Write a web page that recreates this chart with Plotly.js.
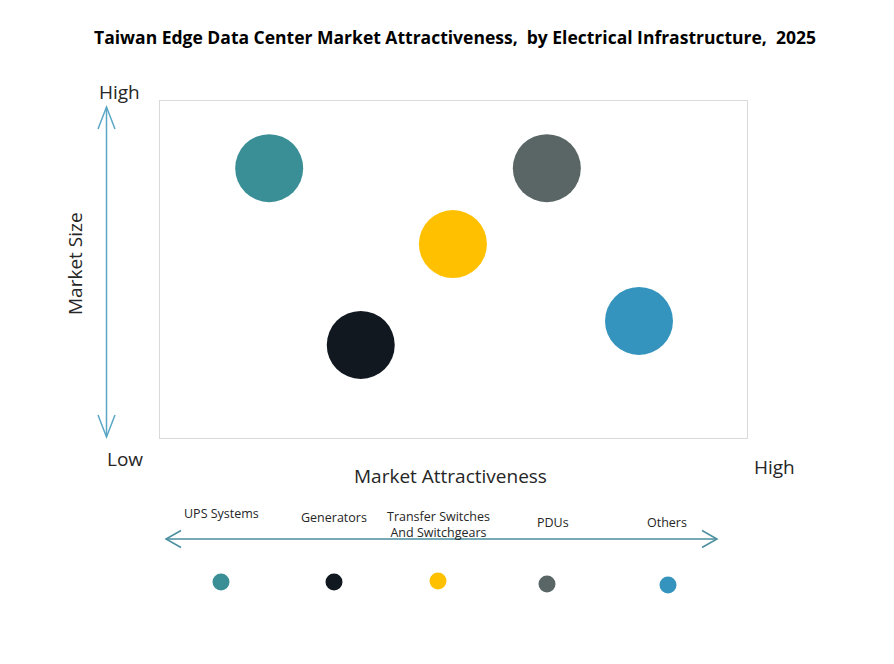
<!DOCTYPE html>
<html>
<head>
<meta charset="utf-8">
<script src="https://cdn.plot.ly/plotly-3.0.1.min.js"></script>
<style>
  html, body { margin: 0; padding: 0; background: #fff; }
  #chart { width: 894px; height: 664px; }
</style>
</head>
<body>
<div id="chart"></div>
<script>
// segments and where they sit (0-10 scale on both axes)
var segments = ["UPS Systems", "Generators", "Transfer Switches<br>And Switchgears", "PDUs", "Others"];
var attractiveness = [1.86, 3.42, 4.99, 6.59, 8.16];
var marketSize = [8.0, 2.76, 5.75, 8.0, 3.47];

var segColors = ["#3A8F97", "#111820", "#FFC000", "#5A6566", "#3594BD"];

// legend row below the chart, placed on a pixel-sized helper axis
var legendDotX = [221, 334, 438, 547, 668];
var legendDotY = [582, 582, 581, 584, 585];
var legendLabelX = [221, 334, 438, 553, 667];
var legendLabelY = [513, 517, 524, 522, 522];

var font = "Open Sans, DejaVu Sans, sans-serif";

var bubbles = {
  x: attractiveness,
  y: marketSize,
  text: segments,
  mode: "markers",
  type: "scatter",
  hoverinfo: "text",
  marker: { size: 68, color: segColors, opacity: 1, line: { width: 0 } },
  xaxis: "x",
  yaxis: "y"
};

var legendDots = {
  x: legendDotX,
  y: legendDotY,
  text: segments,
  mode: "markers",
  type: "scatter",
  hoverinfo: "text",
  marker: { size: 17, color: segColors, line: { width: 0 } },
  xaxis: "x2",
  yaxis: "y2"
};

var annotations = [];
for (var i = 0; i < segments.length; i++) {
  annotations.push({
    xref: "x2", yref: "y2",
    x: legendLabelX[i], y: legendLabelY[i],
    text: segments[i],
    showarrow: false,
    xanchor: "center", yanchor: "middle",
    font: { family: font, size: 12.5, color: "#262626" }
  });
}

function axisText(txt, x, y, size, angle) {
  return {
    xref: "x2", yref: "y2", x: x, y: y, text: txt, showarrow: false,
    xanchor: "center", yanchor: "middle", textangle: angle || 0,
    font: { family: font, size: size, color: "#262626" }
  };
}
annotations.push(axisText("High", 119, 92, 19));
annotations.push(axisText("Low", 125, 459, 19));
annotations.push(axisText("Market Size", 75, 264, 19, -90));
annotations.push(axisText("Market Attractiveness", 450, 476, 19));
annotations.push(axisText("High", 774, 467, 19));

// open chevron arrows
var yArrow = "#5BA6C6";
var xArrow = "#4A8E9E";
var shapes = [
  { type: "line", xref: "x2", yref: "y2", x0: 106.5, y0: 107, x1: 106.5, y1: 437, line: { color: yArrow, width: 1.5 } },
  { type: "path", xref: "x2", yref: "y2", path: "M 98,129 L 106.5,107 L 115,129", line: { color: yArrow, width: 1.5 } },
  { type: "path", xref: "x2", yref: "y2", path: "M 98,415 L 106.5,437 L 115,415", line: { color: yArrow, width: 1.5 } },
  { type: "line", xref: "x2", yref: "y2", x0: 166, y0: 539, x1: 717, y1: 539, line: { color: xArrow, width: 1.5 } },
  { type: "path", xref: "x2", yref: "y2", path: "M 181,530.5 L 166,539 L 181,547.5", line: { color: xArrow, width: 1.5 } },
  { type: "path", xref: "x2", yref: "y2", path: "M 702,530.5 L 717,539 L 702,547.5", line: { color: xArrow, width: 1.5 } }
];

var layout = {
  width: 894,
  height: 664,
  margin: { l: 0, r: 0, t: 0, b: 0 },
  paper_bgcolor: "#ffffff",
  plot_bgcolor: "rgba(0,0,0,0)",
  showlegend: false,
  title: {
    text: "<b>Taiwan Edge Data Center Market Attractiveness,  by Electrical Infrastructure,  2025</b>",
    font: { family: font, size: 17.5, color: "#000000" },
    x: 455 / 894,
    xanchor: "center",
    y: 1 - 38 / 664,
    yanchor: "middle"
  },
  xaxis: {
    domain: [160 / 894, 747 / 894],
    range: [0, 10],
    showgrid: false, zeroline: false, showticklabels: false, ticks: "",
    showline: true, mirror: true, linecolor: "#D9D9D9", linewidth: 1,
    anchor: "y"
  },
  yaxis: {
    domain: [1 - 438 / 664, 1 - 100.7 / 664],
    range: [0, 10],
    showgrid: false, zeroline: false, showticklabels: false, ticks: "",
    showline: true, mirror: true, linecolor: "#D9D9D9", linewidth: 1,
    anchor: "x"
  },
  xaxis2: { domain: [0, 1], range: [0, 894], visible: false, anchor: "y2" },
  yaxis2: { domain: [0, 1], range: [664, 0], visible: false, anchor: "x2" },
  annotations: annotations,
  shapes: shapes
};

Plotly.newPlot("chart", [bubbles, legendDots], layout, { displayModeBar: false, staticPlot: true });
</script>
</body>
</html>
